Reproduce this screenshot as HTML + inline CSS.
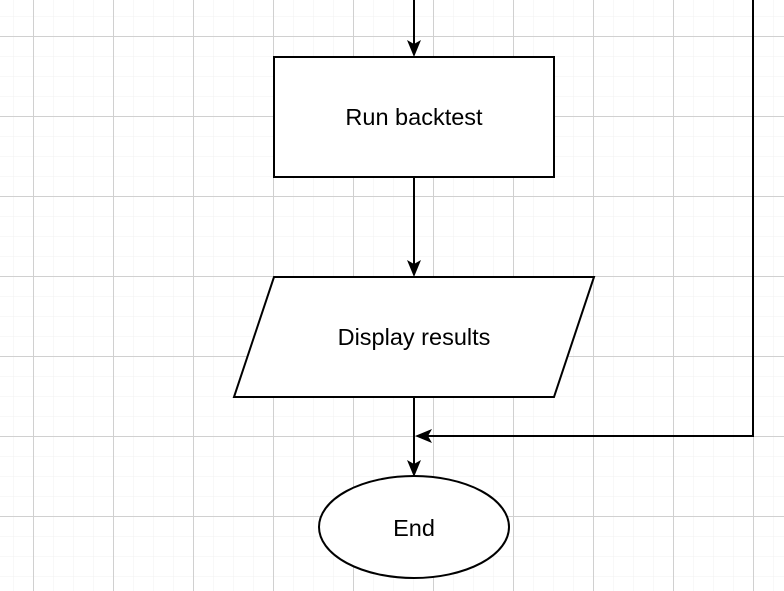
<!DOCTYPE html>
<html><head><style>body{margin:0;background:#fff}svg{display:block}</style></head><body>
<svg width="784" height="591" xmlns="http://www.w3.org/2000/svg" font-family="Liberation Sans, Arial, sans-serif">
<defs>
<pattern id="m" width="20" height="20" patternUnits="userSpaceOnUse" x="13" y="16"><path d="M0 0H20M0 0V20" stroke="#f0f0f0" stroke-width="1" fill="none"/></pattern>
<pattern id="M" width="80" height="80" patternUnits="userSpaceOnUse" x="33" y="36"><path d="M0 0.5H80M0.5 0V80" stroke="#d0d0d0" stroke-width="1" fill="none"/></pattern>
</defs>
<rect width="784" height="591" fill="url(#m)"/>
<rect width="784" height="591" fill="url(#M)"/>
<g stroke="#000" stroke-width="2" fill="none">
<path d="M414 0V48"/>
<path d="M414 177V268"/>
<path d="M414 397V468"/>
<path d="M753 0V436H424"/>
<rect x="274" y="57" width="280" height="120" fill="#fff"/>
<polygon points="274,277 594,277 554,397 234,397" fill="#fff"/>
<ellipse cx="414" cy="527" rx="95" ry="51" fill="#fff"/>
</g>
<g fill="#000">
<path d="M414 57L407 40L414 44L421 40Z"/>
<path d="M414 277L407 260L414 264L421 260Z"/>
<path d="M414 477L407 460L414 464L421 460Z"/>
<path d="M415 436L432 429L428 436L432 443Z"/>
</g>
<g font-size="23.5" text-anchor="middle" fill="#000">
<text x="414" y="125">Run backtest</text>
<text x="414" y="345">Display results</text>
<text x="414" y="536">End</text>
</g>
</svg>
</body></html>
